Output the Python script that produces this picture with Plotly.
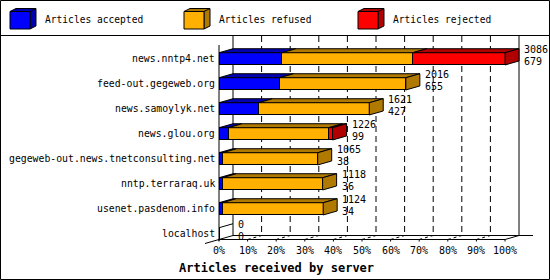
import plotly.graph_objects as go

# ---------------- data ----------------
servers = ["news.nntp4.net", "feed-out.gegeweb.org", "news.samoylyk.net", "news.glou.org",
           "gegeweb-out.news.tnetconsulting.net", "nntp.terraraq.uk", "usenet.pasdenom.info", "localhost"]
offered = [3086, 2016, 1621, 1226, 1065, 1118, 1124, 0]
accepted = [679, 655, 427, 99, 38, 36, 34, 0]
rejected = [995, 0, 0, 43, 0, 0, 0, 0]
refused = [o - a - r for o, a, r in zip(offered, accepted, rejected)]
series_names = ["Articles accepted", "Articles refused", "Articles rejected"]
series_vals = [accepted, refused, rejected]
x_ticks = list(range(0, 101, 10))
x_title = "Articles received by server"

# ---------------- styles ----------------
front_cols = ["#0000FF", "#FFB000", "#FF0000"]
dark_cols = ["#0000B0", "#B07900", "#B00000"]
FONT = "DejaVu Sans Mono"

W, H = 550, 280
PX0, PXS = 219.0, 2.86      # pixel of 0 %, pixels per %
YC0, YS = 58.85, 25.0       # pixel of first bar centre, pixels per row
DXP, DYP = 14.0, 4.0        # 3D depth in pixels
BW = 0.49                   # bar thickness (rows)


def xd(px):
    return (px - PX0) / PXS


def yd(py):
    return (py - YC0) / YS


DX = DXP / PXS
DY = DYP / YS

maxv = max(offered) if max(offered) else 1
pct = [[v / maxv * 100 for v in s] for s in series_vals]
idx = list(range(len(servers)))

fig = go.Figure()

# front faces
for k, name in enumerate(series_names):
    fig.add_trace(go.Bar(
        y=idx, x=pct[k], orientation="h", width=BW, name=name,
        marker=dict(color=front_cols[k], line=dict(color="black", width=1)),
        showlegend=False, hoverinfo="skip"))

# top and side faces
tops = {k: ([], []) for k in range(3)}
sides = {k: ([], []) for k in range(3)}
zero_lines = ([], [])
for i in idx:
    yt = i - BW / 2
    yb = i + BW / 2
    cum = 0.0
    last = None
    for k in range(3):
        w = pct[k][i]
        if w > 0:
            x0, x1 = cum, cum + w
            xs, ys = tops[k]
            xs += [x0, x1, x1 + DX, x0 + DX, x0, None]
            ys += [yt, yt, yt - DY, yt - DY, yt, None]
            cum = x1
            last = k
    if last is None:
        zero_lines[0].extend([0, DX, None])
        zero_lines[1].extend([yt, yt - DY, None])
    else:
        xs, ys = sides[last]
        xs += [cum, cum + DX, cum + DX, cum, cum, None]
        ys += [yt, yt - DY, yb - DY, yb, yt, None]

for k in range(3):
    for poly in (tops[k], sides[k]):
        if poly[0]:
            fig.add_trace(go.Scatter(x=poly[0], y=poly[1], mode="lines", fill="toself",
                                     fillcolor=dark_cols[k], line=dict(color="black", width=1),
                                     showlegend=False, hoverinfo="skip"))
if zero_lines[0]:
    fig.add_trace(go.Scatter(x=zero_lines[0], y=zero_lines[1], mode="lines",
                             line=dict(color="black", width=1), showlegend=False, hoverinfo="skip"))

shapes = []
ann = []
floor_f = yd(239.5)
floor_b = floor_f - DY
top_wall = yd(36)


def line(x0, y0, x1, y1, dash=None, layer="below"):
    d = dict(type="line", xref="x", yref="y", x0=x0, y0=y0, x1=x1, y1=y1,
             line=dict(color="black", width=1), layer=layer)
    if dash:
        d["line"]["dash"] = dash
    shapes.append(d)


# back wall grid
for t in x_ticks:
    if 0 < t < 100:
        line(t + DX, top_wall, t + DX, floor_b, dash="6px,4px")
        line(t, floor_f, t + DX, floor_b, dash="3px,3px")
line(DX, top_wall, DX, floor_b)
line(100 + DX, top_wall, 100 + DX, floor_b)
# floor
line(0, floor_f, 100, floor_f)
line(DX, floor_b, 100 + 2 * DX, floor_b)
line(100, floor_f, 100 + DX, floor_b)
line(-DX, floor_f + DY, DX, floor_b)
line(0, yd(45), 0, floor_f + 0.06)
for t in x_ticks:
    line(t, floor_f, t, floor_f + 0.08)

# tick labels
for t in x_ticks:
    ann.append(dict(x=t, y=yd(250.5), xref="x", yref="y", text=f"{t}%", showarrow=False,
                    xanchor="center", yanchor="middle", font=dict(family=FONT, size=10, color="black")))

# category labels and values
for i, s in enumerate(servers):
    ann.append(dict(x=0, y=i, xref="x", yref="y", text=s, showarrow=False, xanchor="right",
                    yanchor="middle", xshift=-3, borderpad=0,
                    font=dict(family=FONT, size=9.8, color="black")))
    end = sum(pct[k][i] for k in range(3))
    ann.append(dict(x=end + DX, y=i, xref="x", yref="y", text=str(offered[i]), showarrow=False,
                    xanchor="left", yanchor="middle", xshift=3, yshift=9,
                    font=dict(family=FONT, size=10, color="black")))
    ann.append(dict(x=end + DX, y=i, xref="x", yref="y", text=str(accepted[i]), showarrow=False,
                    xanchor="left", yanchor="middle", xshift=3, yshift=-2.5,
                    font=dict(family=FONT, size=10, color="black")))

# axis title
ann.append(dict(x=276 / W, y=1 - 268 / H, xref="paper", yref="paper", text=f"<b>{x_title}</b>",
                showarrow=False, xanchor="center", yanchor="middle",
                font=dict(family=FONT, size=12, color="black")))


# legend (pseudo-3D cubes)
def pp(px, py):
    return f"{px / W:.5f},{1 - py / H:.5f}"


for k, name in enumerate(series_names):
    bx = 10 + 174 * k
    fx0, fx1, fy0, fy1 = bx, bx + 20, 11.5, 29
    ddx, ddy = 6, 3
    shapes.append(dict(type="path", xref="paper", yref="paper",
                       path=f"M{pp(fx0, fy0)} L{pp(fx0 + ddx, fy0 - ddy)} L{pp(fx1 + ddx, fy0 - ddy)} "
                            f"L{pp(fx1 + ddx, fy1 - ddy)} L{pp(fx1, fy1)} L{pp(fx1, fy0)} Z",
                       fillcolor=dark_cols[k], line=dict(color="black", width=1)))
    shapes.append(dict(type="path", xref="paper", yref="paper",
                       path=f"M{pp(fx1, fy0)} L{pp(fx1 + ddx, fy0 - ddy)}",
                       line=dict(color="black", width=1)))
    shapes.append(dict(type="rect", xref="paper", yref="paper",
                       x0=fx0 / W, x1=fx1 / W, y0=1 - fy1 / H, y1=1 - fy0 / H,
                       fillcolor=front_cols[k], line=dict(color="black", width=1)))
    ann.append(dict(x=(bx + 33) / W, y=1 - 20 / H, xref="paper", yref="paper", text=name,
                    showarrow=False, xanchor="left", yanchor="middle",
                    font=dict(family=FONT, size=9.6, color="black")))

# separator and border
shapes.append(dict(type="line", xref="paper", yref="paper", x0=0, x1=1, y0=1 - 35.5 / H, y1=1 - 35.5 / H,
                   line=dict(color="black", width=1)))
shapes.append(dict(type="rect", xref="paper", yref="paper", x0=0.5 / W, x1=549.5 / W,
                   y0=0.5 / H, y1=1 - 0.5 / H, line=dict(color="black", width=1)))

fig.update_layout(
    width=W, height=H, autosize=False,
    margin=dict(l=0, r=0, t=0, b=0, pad=0),
    paper_bgcolor="white", plot_bgcolor="white",
    barmode="stack", showlegend=False,
    xaxis=dict(range=[xd(0), xd(W)], visible=False, fixedrange=True),
    yaxis=dict(range=[yd(H), yd(0)], visible=False, fixedrange=True),
    shapes=shapes, annotations=ann,
)

fig.write_html("out.html")
